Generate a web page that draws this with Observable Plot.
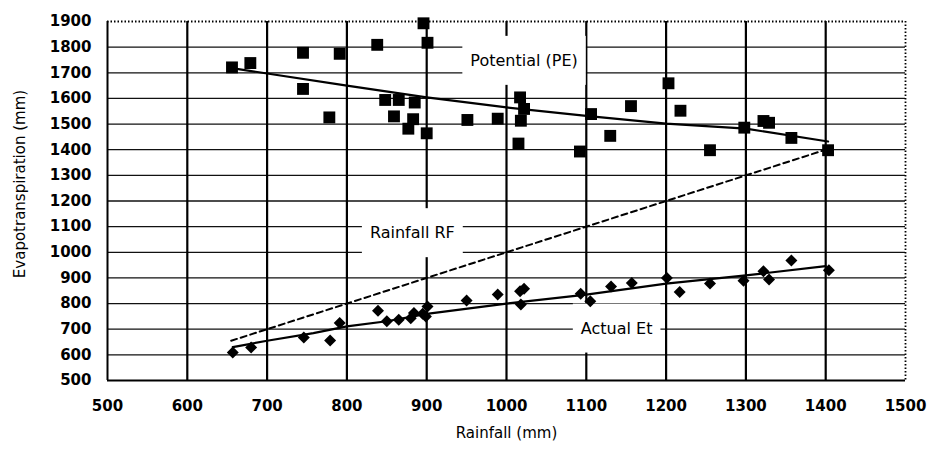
<!DOCTYPE html>
<html><head><meta charset="utf-8">
<script src="https://cdn.jsdelivr.net/npm/d3@7"></script>
<script src="https://cdn.jsdelivr.net/npm/@observablehq/plot@0.6"></script>
<style>
body{margin:0;background:#fff}
#chart svg{display:block}
g[aria-label^="x-axis"] text, g[aria-label^="y-axis"] text{font-weight:bold;font-size:15px}
</style>
</head><body><div id="chart"></div>
<script>
// Potential evapotranspiration (squares)
const peRain  = [656,679,745,745,778,791,838,848,865,859,885,883,877,900,896,901,951,989,1017,1022,1018,1015,1092,1106,1130,1156,1203,1218,1255,1298,1322,1329,1357,1403];
const peValue = [1721,1738,1778,1637,1526,1774,1809,1594,1594,1530,1584,1519,1482,1464,1893,1817,1516,1521,1604,1559,1513,1424,1393,1539,1454,1570,1659,1552,1398,1486,1512,1505,1446,1398];
// Actual evapotranspiration (diamonds)
const etRain  = [657,680,746,779,791,839,850,865,880,884,895,899,901,950,989,1017,1018,1022,1093,1105,1131,1157,1201,1217,1255,1297,1322,1329,1357,1404];
const etValue = [609,629,668,656,724,772,731,737,743,763,760,750,789,812,835,848,796,858,838,809,867,880,900,845,878,889,926,894,968,930];
// Trend lines
const peTrendRain  = [656,800,900,1000,1100,1200,1300,1403];
const peTrendValue = [1718,1650,1604,1565,1532,1502,1482,1432];
const etTrendRain  = [657,700,758,800,850,900,1000,1100,1200,1300,1400];
const etTrendValue = [630,655,685,711,731,760,800,835,878,910,946];
// Rainfall (1:1) line
const rainLineRain  = [655,1400];
const rainLineValue = [655,1400];
// Ticks
const xTicks = [500,600,700,800,900,1000,1100,1200,1300,1400,1500];
const yTicks = [500,600,700,800,900,1000,1100,1200,1300,1400,1500,1600,1700,1800,1900];
// In-chart labels
const labelText  = ["Potential (PE)","Rainfall RF","Actual Et"];
const labelRain  = [1022,882,1138];
const labelValue = [1747,1075,703];
const xTitle = "Rainfall (mm)";
const yTitle = "Evapotranspiration (mm)";

const pe = peRain.map((x,i)=>({x, y: peValue[i]}));
const et = etRain.map((x,i)=>({x, y: etValue[i]}));
const peTrend = peTrendRain.map((x,i)=>({x, y: peTrendValue[i]}));
const etTrend = etTrendRain.map((x,i)=>({x, y: etTrendValue[i]}));
const rainLine = rainLineRain.map((x,i)=>({x, y: rainLineValue[i]}));
const labels = labelText.map((t,i)=>({t, x: labelRain[i], y: labelValue[i]}));

const innerY = yTicks.filter(v=>v>500 && v<1900);
const innerX = xTicks.filter(v=>v>500 && v<1500);

const plot = Plot.plot({
  width: 930, height: 461,
  marginLeft: 107, marginRight: 25, marginTop: 21, marginBottom: 81,
  style: {fontFamily: "DejaVu Sans", fontSize: "15px", color: "#000", background: "#fff"},
  x: {domain: [500,1500], ticks: xTicks, tickSize: 0, tickPadding: 20, label: null, tickFormat: d => String(d)},
  y: {domain: [500,1900], ticks: yTicks, tickSize: 0, tickPadding: 16, label: null, tickFormat: d => String(d)},
  marks: [
    Plot.ruleY(innerY, {stroke: "#111", strokeWidth: 1.3}),
    Plot.ruleX(innerX, {stroke: "#000", strokeWidth: 2.2}),
    Plot.ruleY([1900], {stroke: "#000", strokeWidth: 1.8, strokeDasharray: "1.5,2"}),
    Plot.ruleX([1500], {stroke: "#000", strokeWidth: 1.8, strokeDasharray: "1.5,2"}),
    Plot.ruleX([500], {stroke: "#000", strokeWidth: 2}),
    Plot.ruleY([500], {stroke: "#000", strokeWidth: 2}),
    Plot.text(labels, {x: "x", y: "y", text: "t", fontSize: 16, fill: "#000"}),
    Plot.line(rainLine, {x: "x", y: "y", stroke: "#000", strokeWidth: 2, strokeDasharray: "6,4"}),
    Plot.line(peTrend, {x: "x", y: "y", stroke: "#000", strokeWidth: 2.2}),
    Plot.line(etTrend, {x: "x", y: "y", stroke: "#000", strokeWidth: 2.2}),
    Plot.dot(pe, {x: "x", y: "y", symbol: "square", r: 6.7, fill: "#000", stroke: "none"}),
    Plot.dot(et, {x: "x", y: "y", symbol: "diamond2", r: 5.4, fill: "#000", stroke: "none"}),
    Plot.text([xTitle], {frameAnchor: "bottom", dy: 57, fontSize: 15, fill: "#000", textAnchor: "middle"}),
    Plot.text([yTitle], {frameAnchor: "left", dx: -87, dy: -17, rotate: -90, fontSize: 15, fill: "#000", textAnchor: "middle"})
  ]
});
document.getElementById("chart").append(plot);

// white boxes behind the in-chart labels
plot.querySelectorAll("text").forEach(t => {
  if (!labelText.includes(t.textContent)) return;
  const b = t.getBBox();
  const r = document.createElementNS("http://www.w3.org/2000/svg", "rect");
  r.setAttribute("x", b.x - 8);
  r.setAttribute("y", b.y - 15);
  r.setAttribute("width", b.width + 16);
  r.setAttribute("height", b.height + 30);
  r.setAttribute("fill", "#fff");
  r.setAttribute("stroke", "none");
  const tr = t.getAttribute("transform");
  if (tr) r.setAttribute("transform", tr);
  t.parentNode.insertBefore(r, t);
});
</script>
</body></html>
